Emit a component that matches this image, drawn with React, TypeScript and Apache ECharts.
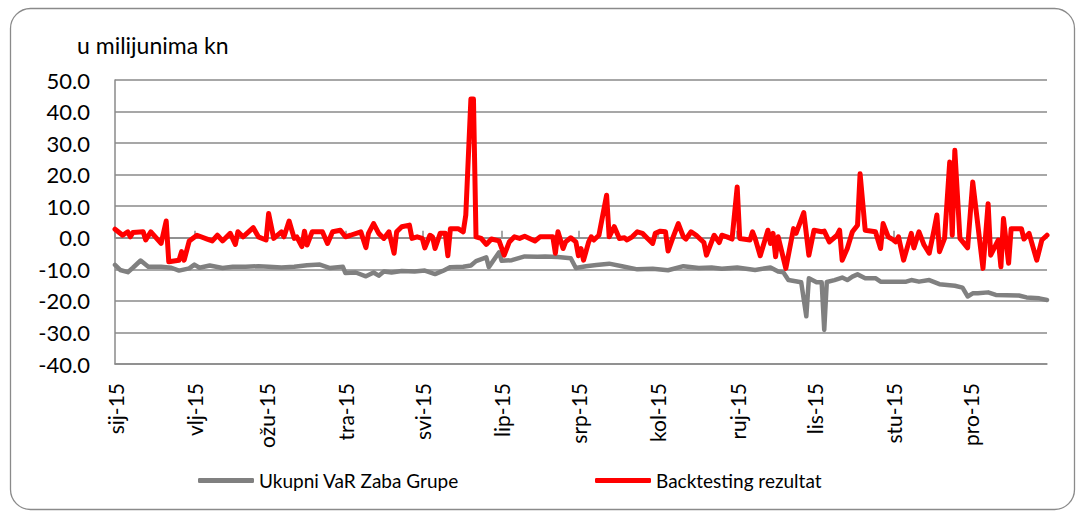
import React, { useEffect, useRef } from "react";
import * as echarts from "echarts";

const MONTHS = ["sij", "vlj", "ožu", "tra", "svi", "lip", "srp", "kol", "ruj", "lis", "stu", "pro"];
const YEAR = 2015;
const Y_TICKS = { min: -40, max: 50, step: 10 };
const TITLE = "u milijunima kn";
const VAR_NAME = "Ukupni VaR Zaba Grupe";
const BT_NAME = "Backtesting rezultat";

// day of year (0 = 1 Jan 2015) and value
const varDays = [0, 2, 5, 7, 10, 13, 18, 22, 25, 29, 31, 33, 37, 42, 46, 51, 56, 60, 65, 70, 75, 80, 84, 89, 90, 94, 98, 101, 103, 105, 108, 112, 117, 121, 125, 128, 131, 136, 139, 141, 145, 146, 150, 151, 155, 160, 165, 168, 173, 178, 180, 184, 188, 193, 198, 204, 210, 216, 222, 228, 233, 237, 243, 250, 256, 259, 261, 263, 268, 270, 271, 274, 276, 277, 278, 281, 284, 286, 288, 290, 293, 297, 299, 304, 309, 311, 314, 318, 322, 328, 331, 333, 335, 337, 341, 344, 353, 356, 361, 364];
const varVals = [-8.6, -10.2, -10.9, -9.5, -7.2, -9.2, -9.2, -9.5, -10.4, -9.7, -8.5, -9.5, -8.8, -9.6, -9.2, -9.2, -9.0, -9.2, -9.4, -9.2, -8.7, -8.5, -9.6, -9.2, -11.2, -11.0, -12.2, -11.0, -12.0, -10.7, -11.0, -10.5, -10.7, -10.4, -11.5, -10.5, -9.3, -9.2, -8.8, -7.4, -6.2, -9.3, -4.6, -7.3, -7.1, -5.9, -6.0, -5.9, -6.1, -6.5, -9.6, -9.0, -8.6, -8.2, -9.0, -10.0, -9.8, -10.3, -9.0, -9.6, -9.4, -9.8, -9.4, -10.2, -9.4, -10.7, -10.9, -13.4, -14.1, -24.9, -12.8, -14.1, -14.1, -29.2, -14.0, -13.4, -12.6, -13.4, -12.3, -11.6, -12.8, -12.8, -13.9, -13.9, -13.9, -13.4, -13.9, -13.4, -14.7, -15.2, -15.8, -18.6, -17.6, -17.6, -17.3, -18.1, -18.3, -18.9, -19.2, -19.7];

const btDays = [0, 3, 5, 6, 7, 11, 12, 14, 18, 20, 21, 25, 26, 27, 29, 32, 36, 38, 40, 42, 45, 47, 48, 50, 54, 56, 59, 60, 62, 65, 66, 68, 70, 71, 73, 74, 75, 77, 81, 83, 85, 88, 90, 92, 96, 98, 99, 101, 103, 105, 107, 109, 110, 112, 115, 116, 118, 120, 121, 123, 124, 125, 127, 129, 130, 131, 134, 136, 137, 139, 140, 141, 143, 145, 147, 150, 152, 154, 156, 158, 160, 164, 166, 168, 171, 172, 173, 175, 176, 178, 180, 181, 182, 183, 185, 186, 187, 189, 192, 193, 195, 197, 199, 200, 202, 204, 206, 208, 210, 211, 213, 215, 216, 218, 220, 222, 223, 225, 227, 230, 231, 233, 234, 236, 237, 239, 241, 243, 244, 248, 249, 250, 252, 255, 256, 257, 258, 259, 262, 265, 266, 269, 271, 273, 276, 277, 279, 282, 283, 284, 286, 288, 290, 291, 293, 297, 299, 300, 302, 304, 305, 306, 308, 311, 312, 314, 316, 318, 320, 321, 322, 324, 326, 327, 328, 330, 333, 335, 339, 341, 342, 345, 346, 347, 349, 350, 354, 355, 357, 360, 362, 364];
const btVals = [2.7, 0.8, 1.9, 0.3, 1.7, 1.9, -0.7, 1.9, -1.8, 5.3, -7.6, -7.1, -4.4, -7.1, -1.0, 0.8, -0.4, -1.0, 0.8, -1.0, 1.4, -2.1, 1.9, 0.3, 3.2, 0.3, -0.7, 7.7, -0.2, 1.9, 0.3, 5.3, -0.2, 0.3, -2.8, 2.1, -2.3, 1.9, 1.9, -1.8, 1.9, 2.4, 0.3, 0.8, 1.9, -3.1, 1.4, 4.5, 1.4, -0.2, 1.9, -4.9, 1.9, 3.5, 4.0, -0.2, 0.3, -0.2, -3.2, 0.8, 0.3, -3.4, 1.4, 1.4, -5.7, 2.9, 2.9, 1.9, 7.2, 44.0, 44.0, 0.3, -0.2, -2.1, -0.4, -1.0, -5.5, -1.3, 0.3, -0.2, 0.5, -1.0, 0.3, 0.3, 0.3, -4.9, 1.9, -3.4, -1.3, 0.0, -1.3, -5.7, -3.4, -7.1, -1.3, 0.3, -0.7, 0.8, 13.5, 0.3, 3.5, -0.2, 0.0, -0.7, 0.3, 1.9, 1.4, -0.2, -1.8, 1.4, 2.1, 1.9, -4.2, 0.3, 4.5, 0.3, -0.4, 1.9, 0.8, -1.5, -5.5, -1.3, 0.8, -1.5, 0.8, 0.3, -0.4, 16.1, -0.2, -0.7, 1.9, -0.2, -5.7, 2.4, -1.8, 1.4, -6.0, 0.3, -9.7, 2.9, 1.4, 8.0, -5.5, 2.4, 1.9, 2.1, -1.3, 0.8, 2.4, -7.1, -3.4, 1.9, 4.0, 20.3, 2.4, 1.9, -3.4, 4.5, 0.3, -0.7, -1.3, 0.3, -7.1, 1.4, -3.2, 1.9, -2.3, -4.9, 2.9, 7.2, -4.4, -0.2, 24.0, 0.8, 27.7, -0.2, -3.2, 17.7, -9.7, 10.8, -5.5, -0.7, -9.2, 6.1, -8.1, 2.9, 2.9, -0.4, 1.4, -7.1, -0.7, 0.8];

const pad = (n: number) => (n < 10 ? "0" + n : "" + n);
const categories: string[] = [];
for (let d = 0; d < 365; d++) {
  const dt = new Date(YEAR, 0, 1 + d);
  categories.push(`${dt.getFullYear()}-${pad(dt.getMonth() + 1)}-${pad(dt.getDate())}`);
}
const isMonthStart = (i: number) => categories[i].endsWith("-01");
const monthLabel = (v: string) => MONTHS[parseInt(v.slice(5, 7), 10) - 1] + "-" + v.slice(2, 4);

const FONT = "Lato";

export default function App() {
  const ref = useRef<HTMLDivElement>(null);
  useEffect(() => {
    if (!ref.current) return;
    const chart = echarts.init(ref.current, undefined, { renderer: "svg" });
    const gridColor = "#8a8a8a";
    chart.setOption({
      animation: false,
      backgroundColor: "#ffffff",
      textStyle: { fontFamily: FONT, color: "#000" },
      title: {
        text: TITLE,
        left: 72,
        top: 28,
        textStyle: { fontFamily: FONT, fontSize: 23, fontWeight: "normal", color: "#000" },
      },
      graphic: [
        {
          type: "rect",
          shape: { x: 10.5, y: 8.5, width: 1064, height: 501, r: 20 },
          style: { fill: "none", stroke: "#8a8a8a", lineWidth: 1.3 },
          silent: true,
          z: -1,
        },
      ],
      legend: [
        {
          left: 193,
          top: 466,
          data: [VAR_NAME],
          icon: "roundRect",
          itemWidth: 56,
          itemHeight: 5,
          textStyle: { fontFamily: FONT, fontSize: 19, color: "#000" },
        },
        {
          left: 590,
          top: 466,
          data: [BT_NAME],
          icon: "roundRect",
          itemWidth: 56,
          itemHeight: 5,
          textStyle: { fontFamily: FONT, fontSize: 19, color: "#000" },
        },
      ],
      grid: { left: 115, right: 33, top: 80, bottom: 151, containLabel: false },
      xAxis: [
        {
          type: "category",
          data: categories,
          boundaryGap: false,
          axisLine: { onZero: false, lineStyle: { color: gridColor, width: 1.5 } },
          axisTick: { show: false },
          splitLine: { show: false },
          axisLabel: {
            interval: (i: number) => isMonthStart(i),
            rotate: 90,
            margin: 19,
            fontSize: 21,
            fontFamily: FONT,
            color: "#000",
            formatter: (v: string) => monthLabel(v),
          },
        },
        {
          type: "category",
          data: categories,
          boundaryGap: false,
          position: "top",
          axisLine: { show: true, onZero: true, lineStyle: { color: gridColor, width: 1.5 } },
          axisTick: {
            show: true,
            interval: (i: number) => isMonthStart(i),
            length: 7,
            lineStyle: { color: gridColor, width: 1.5 },
          },
          axisLabel: { show: false },
          splitLine: { show: false },
        },
      ],
      yAxis: {
        type: "value",
        min: Y_TICKS.min,
        max: Y_TICKS.max,
        interval: Y_TICKS.step,
        axisLine: { show: true, lineStyle: { color: gridColor, width: 1.5 } },
        axisTick: { show: false },
        splitLine: { lineStyle: { color: gridColor, width: 1.5 } },
        axisLabel: {
          margin: 25,
          fontSize: 22,
          fontFamily: FONT,
          color: "#000",
          formatter: (v: number) => v.toFixed(1),
        },
      },
      series: [
        {
          name: VAR_NAME,
          type: "line",
          xAxisIndex: 0,
          data: varDays.map((d, i) => [d, varVals[i]]),
          showSymbol: false,
          symbol: "none",
          lineStyle: { color: "#808080", width: 4.5, join: "round", cap: "round" },
          itemStyle: { color: "#808080" },
          z: 2,
        },
        {
          name: BT_NAME,
          type: "line",
          xAxisIndex: 0,
          data: btDays.map((d, i) => [d, btVals[i]]),
          showSymbol: false,
          symbol: "none",
          lineStyle: { color: "#ff0000", width: 5, join: "round", cap: "round" },
          itemStyle: { color: "#ff0000" },
          z: 3,
        },
      ],
    });
    return () => chart.dispose();
  }, []);
  return (
    <div
      ref={ref}
      style={{ position: "absolute", left: 0, top: 0, width: 1080, height: 515, background: "#fff" }}
    />
  );
}
